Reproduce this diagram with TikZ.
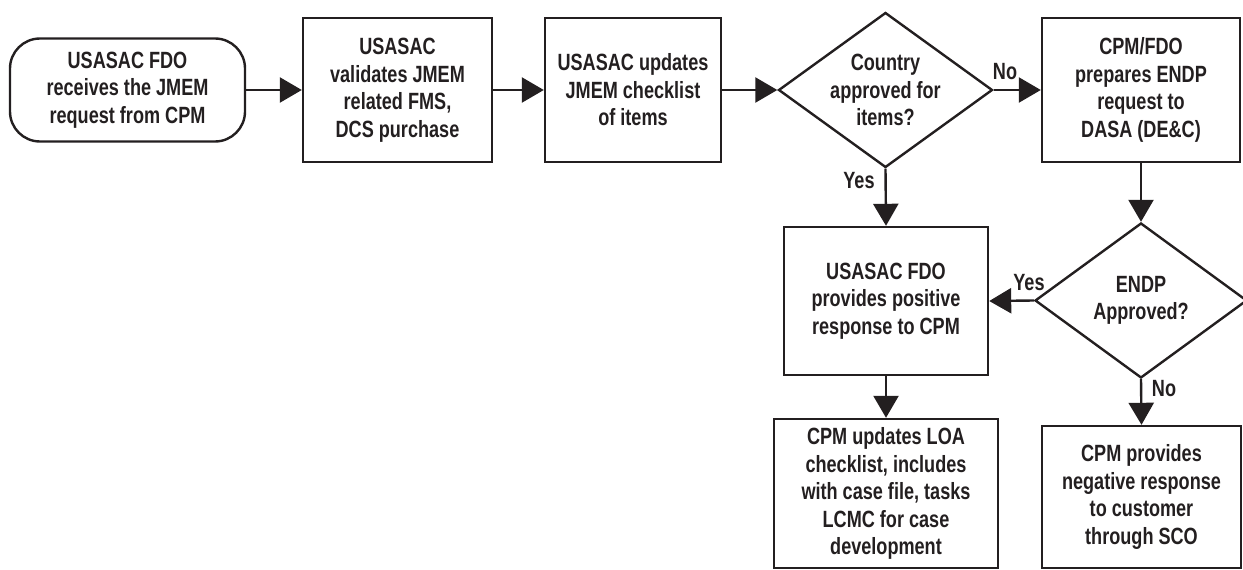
\documentclass[tikz,border=0pt]{standalone}
\usepackage{fontspec}
\setmainfont{Liberation Sans}[FakeStretch=0.77]
\usetikzlibrary{shapes.geometric,arrows.meta}
\definecolor{ink}{HTML}{231F20}
\tikzset{
  x=1pt,y=-1pt,
  every node/.style={font=\fontsize{23.5}{27.5}\selectfont\bfseries, text=ink},
  proc/.style={draw=ink, line width=2.4pt, rectangle, align=center, inner sep=0pt},
  startbox/.style={proc, rounded corners=30pt},
  dec/.style={draw=ink, line width=2.4pt, diamond, inner sep=0pt, minimum width=214pt, minimum height=155pt},
  flow/.style={draw=ink, line width=2.4pt, -{Triangle[length=22pt,width=25pt]}},
  lbl/.style={inner sep=0pt}
}
\begin{document}
\begin{tikzpicture}
\useasboundingbox (0,0) rectangle (1243,570);
\node[startbox, minimum width=235pt, minimum height=103pt] (s) at (127.5,90) {USASAC FDO\\receives the JMEM\\request from CPM};
\node[proc, minimum width=189pt, minimum height=144pt] (b2) at (397.5,90) {USASAC\\validates JMEM\\related FMS,\\DCS purchase};
\node[proc, minimum width=176pt, minimum height=144pt] (b3) at (633,90) {USASAC updates\\JMEM checklist\\of items};
\node[dec, label={[align=center]center:Country\\approved for\\items?}] (d1) at (885.5,90) {};
\node[proc, minimum width=198pt, minimum height=144pt] (b4) at (1141,90) {CPM/FDO\\prepares ENDP\\request to\\DASA (DE\&C)};
\node[dec, minimum width=212pt, label={[align=center]center:ENDP\\Approved?}] (d2) at (1141,300.5) {};
\node[proc, minimum width=204pt, minimum height=148pt] (b5) at (886,301) {USASAC FDO\\provides positive\\response to CPM};
\node[proc, minimum width=224pt, minimum height=149pt] (b6) at (886,493.5) {CPM updates LOA\\checklist, includes\\with case file, tasks\\LCMC for case\\development};
\node[proc, minimum width=199pt, minimum height=142pt] (b7) at (1141.5,497) {CPM provides\\negative response\\to customer\\through SCO};

\node[lbl] (lno1) at (1005,72) {No};
\node[lbl] (lyes1) at (859,181) {Yes};
\node[lbl] (lyes2) at (1029,283) {Yes};
\node[lbl] (lno2) at (1164,389) {No};

\draw[flow] (s.east) -- (b2.west);
\draw[flow] (b2.east) -- (b3.west);
\draw[flow] (b3.east) -- (d1.west);
\draw[flow] (d1.east) -- (b4.west);
\draw[flow] (d1.south) -- (b5.north);
\draw[flow] (b4.south) -- (d2.north);
\draw[flow] (d2.west) -- (b5.east);
\draw[flow] (b5.south) -- (b6.north);
\draw[flow] (d2.south) -- (b7.north);
\end{tikzpicture}
\end{document}
